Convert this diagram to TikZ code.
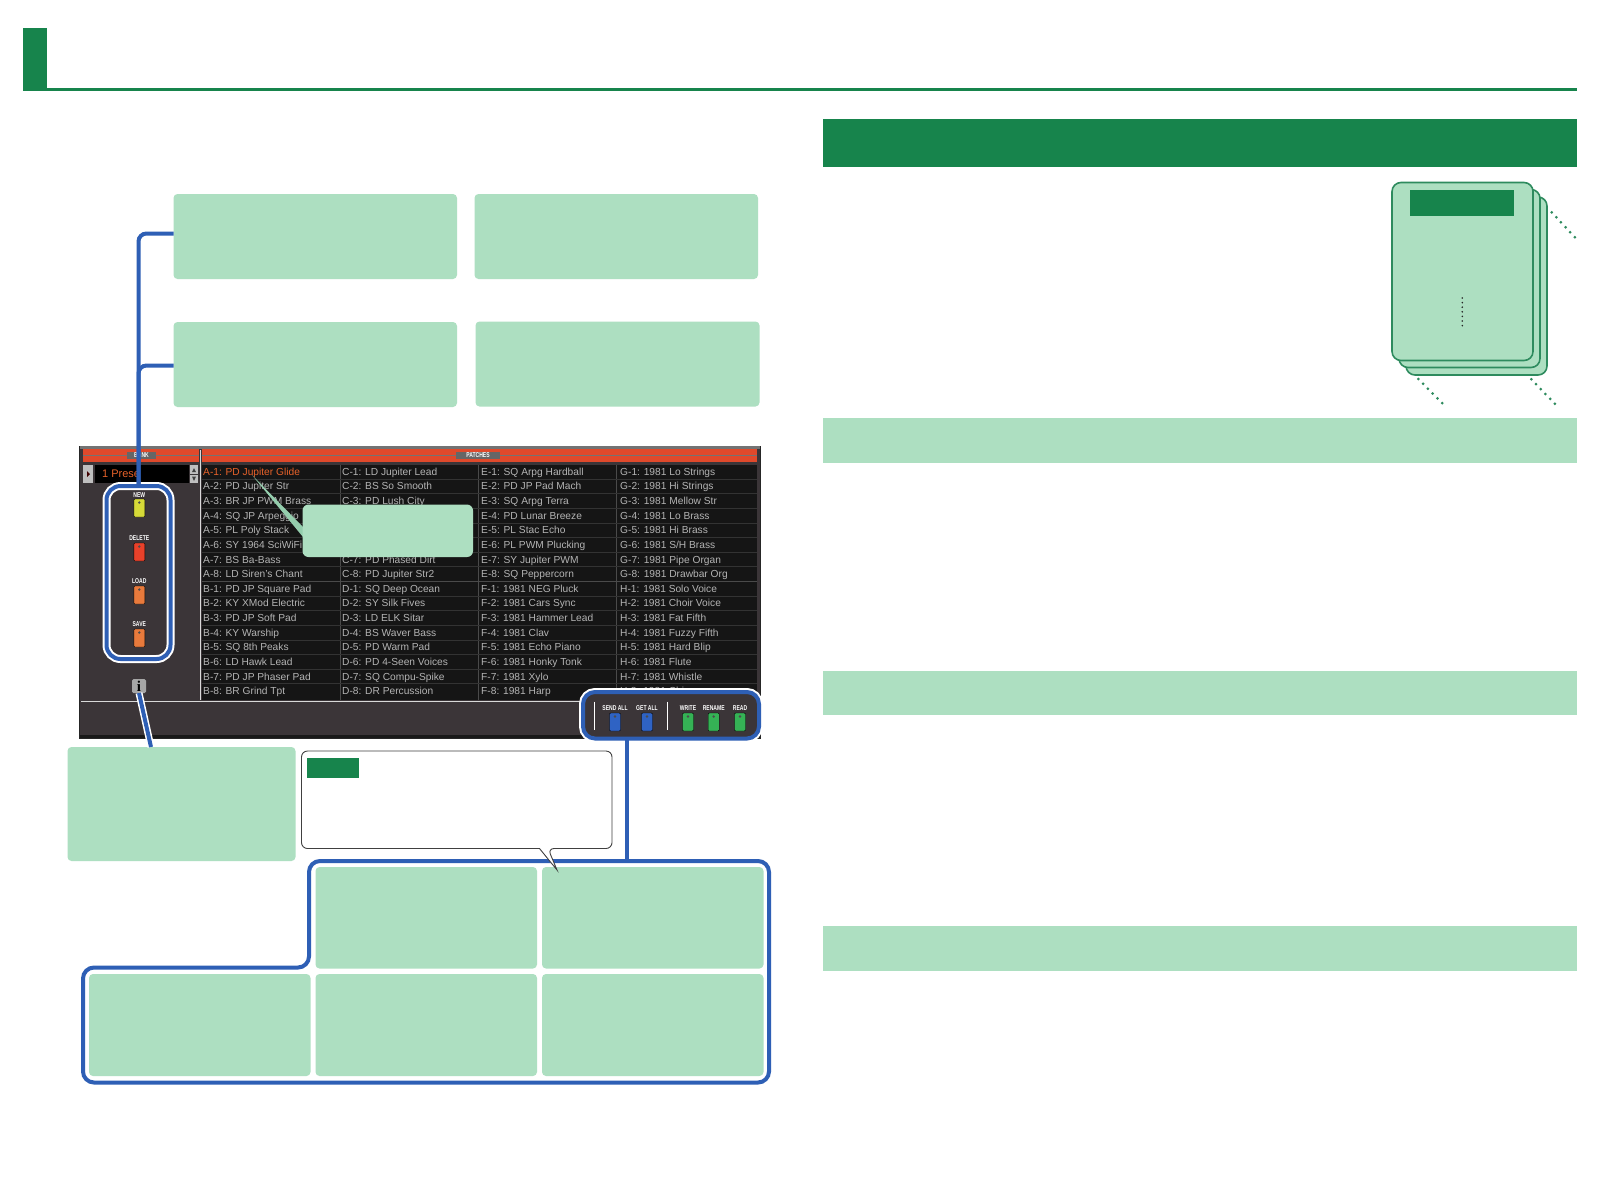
\documentclass[tikz,border=0pt]{standalone}
\usepackage{fontspec}
\setmainfont{Liberation Sans}
\newfontfamily\btnfont{Liberation Sans}[FakeStretch=0.72]
\newfontfamily\signfont{Liberation Serif}
\definecolor{darkgreen}{HTML}{17844C}
\definecolor{lightgreen}{HTML}{ADDFC1}
\definecolor{edgegreen}{HTML}{2E8B5E}
\definecolor{wireblue}{HTML}{2E5FB5}
\definecolor{panelgray}{HTML}{3B3538}
\definecolor{cellblack}{HTML}{151515}
\definecolor{rowgray}{HTML}{B4B4B4}
\definecolor{rowline}{HTML}{333333}
\definecolor{colline}{HTML}{4A4A4A}
\definecolor{barred}{HTML}{E0492B}
\definecolor{patchorange}{HTML}{E8622A}
\definecolor{pedalyellow}{HTML}{D6DA38}
\definecolor{pedalred}{HTML}{E8412A}
\definecolor{pedalorange}{HTML}{E87A3C}
\definecolor{pedalblue}{HTML}{2F63C4}
\definecolor{pedalgreen}{HTML}{35B255}
\tikzset{
  block/.style={anchor=north west,inner sep=0,outer sep=0},
  lightbox/.style={block,fill=lightgreen,rounded corners=4pt},
  paper/.style={block,fill=lightgreen,draw=edgegreen,line width=1.6pt,rounded corners=9pt,minimum width=141pt,minimum height=178pt},
  wire/.style={draw=wireblue,line width=4pt},
  haloframe/.style={block,wire,preaction={draw=white,line width=8pt},rounded corners=14pt},
  halowire/.style={wire,preaction={draw=white,line width=7pt}},
  dotsgreen/.style={draw=edgegreen,line width=3pt,line cap=round,dash pattern=on 0pt off 6.8pt},
  patch/.style={anchor=west,inner sep=0,text height=8.5pt,text depth=1.2pt,text=rowgray,font=\fontsize{10.2}{12}\selectfont},
  btnlabel/.style={inner sep=0,text=white,font=\btnfont\bfseries\fontsize{7}{8}\selectfont},
  pedal/.style={inner sep=0,outer sep=0,draw=black,rounded corners=1pt,minimum width=11pt,minimum height=18pt},
  pin/.style={fill=black!70}
}
\begin{document}
\begin{tikzpicture}[x=1pt,y=-1pt]
\useasboundingbox (0,0) rectangle (1600,1200);
\fill[white] (0,0) rectangle (1600,1200);
% page head and right column
\node[block,fill=darkgreen,minimum width=24.5pt,minimum height=63pt] (headmark) at (22.5,27.5) {};
\node[block,fill=darkgreen,minimum width=1554.5pt,minimum height=3pt] (headrule) at (22.5,88) {};
\node[block,fill=darkgreen,minimum width=754.5pt,minimum height=48pt] (bandtop) at (822.5,119) {};
\node[block,fill=lightgreen,minimum width=754.5pt,minimum height=45pt] (banda) at (822.5,418) {};
\node[block,fill=lightgreen,minimum width=754.5pt,minimum height=44pt] (bandb) at (822.5,671) {};
\node[block,fill=lightgreen,minimum width=754.5pt,minimum height=45pt] (bandc) at (822.5,925.5) {};
% stack of sheets
\node[paper] (paperc) at (1406,197) {};
\node[paper] (paperb) at (1399,189.5) {};
\node[paper] (papera) at (1392,182.5) {};
\node[block,fill=darkgreen,minimum width=104pt,minimum height=26pt] (papertitle) at (1410,190) {};
\draw[black!85,line width=1.8pt,line cap=round,dash pattern=on 0pt off 4.6pt] (1462.3,298) -- (1462.3,329);
\draw[dotsgreen] (1551.7,212.3) -- (1576,238.5);
\draw[dotsgreen] (1418.3,379) -- (1444.5,405.5);
\draw[dotsgreen] (1531.3,379.3) -- (1557,406);
% screen
\node[block,fill=panelgray,draw=black!85,line width=1pt,minimum width=681pt,minimum height=292pt] (screen) at (79.5,446) {};
\fill[black!90] (80,735) rectangle (760,738);
\fill[black!55] (80,446) rectangle (760,449);
\node[block,fill=barred,minimum width=116pt,minimum height=13pt] (bankbar) at (83,449) {};
\node[block,fill=barred,minimum width=555pt,minimum height=13pt] (patchbar) at (202,449) {};
\draw[black!55,line width=.7pt] (83,455.5) -- (199,455.5);
\draw[black!55,line width=.7pt] (202,455.5) -- (757,455.5);
\node[fill=black!60,inner sep=0,minimum width=29pt,minimum height=7.5pt,text=white,font=\btnfont\bfseries\fontsize{7}{8}\selectfont] (banktag) at (141.5,455.5) {BANK};
\node[fill=black!60,inner sep=0,minimum width=44pt,minimum height=7.5pt,text=white,font=\btnfont\bfseries\fontsize{7}{8}\selectfont] (patchtag) at (478,455.5) {PATCHES};
\node[block,fill=black,minimum width=94pt,minimum height=18pt] (bankfield) at (95,465) {};
\node[block,fill=black!25,minimum width=10pt,minimum height=18pt] (bankleft) at (83,465) {};
\fill[black!75!red] (87,471) -- (90,474) -- (87,477) -- cycle;
\node[block,fill=black!25,minimum width=8pt,minimum height=8.5pt] (bankup) at (190,465) {};
\node[block,fill=black!25,minimum width=8pt,minimum height=8.5pt] (bankdown) at (190,474.5) {};
\fill[black!75] (192,472) -- (196,472) -- (194,468) -- cycle;
\fill[black!75] (192,476.5) -- (196,476.5) -- (194,481) -- cycle;
\node[patch,text=patchorange,font=\fontsize{11}{13}\selectfont] (bankname) at (102,474) {1 Prese};
\node[block,fill=cellblack,minimum width=555pt,minimum height=235pt] (cells) at (202,465) {};
\draw[white!85!black,line width=1pt] (200.7,450) -- (200.7,700);
\draw[white!85!black,line width=1pt] (81,701) -- (757,701);
\draw[colline,line width=.8pt] (340,465) -- (340,700);
\draw[colline,line width=.8pt] (478,465) -- (478,700);
\draw[colline,line width=.8pt] (616,465) -- (616,700);
\draw[rowline,line width=.8pt] (202,479) -- (757,479);
\draw[rowline,line width=.8pt] (202,493.6) -- (757,493.6);
\draw[rowline,line width=.8pt] (202,508.2) -- (757,508.2);
\draw[rowline,line width=.8pt] (202,522.9) -- (757,522.9);
\draw[rowline,line width=.8pt] (202,537.5) -- (757,537.5);
\draw[rowline,line width=.8pt] (202,552.1) -- (757,552.1);
\draw[rowline,line width=.8pt] (202,566.8) -- (757,566.8);
\draw[colline,line width=.8pt] (202,581.4) -- (757,581.4);
\draw[rowline,line width=.8pt] (202,596) -- (757,596);
\draw[rowline,line width=.8pt] (202,610.6) -- (757,610.6);
\draw[rowline,line width=.8pt] (202,625.3) -- (757,625.3);
\draw[rowline,line width=.8pt] (202,639.9) -- (757,639.9);
\draw[rowline,line width=.8pt] (202,654.5) -- (757,654.5);
\draw[rowline,line width=.8pt] (202,669.1) -- (757,669.1);
\draw[rowline,line width=.8pt] (202,683.8) -- (757,683.8);
% patch list
\node[patch,text=patchorange] (a1) at (203,471.7) {A-1: PD Jupiter Glide};
\node[patch] (a2) at (203,486.3) {A-2: PD Jupiter Str};
\node[patch] (a3) at (203,500.9) {A-3: BR JP PWM Brass};
\node[patch] (a4) at (203,515.6) {A-4: SQ JP Arpeggio};
\node[patch] (a5) at (203,530.2) {A-5: PL Poly Stack};
\node[patch] (a6) at (203,544.8) {A-6: SY 1964 SciWiFi};
\node[patch] (a7) at (203,559.4) {A-7: BS Ba-Bass};
\node[patch] (a8) at (203,574.1) {A-8: LD Siren's Chant};
\node[patch] (b1) at (203,588.7) {B-1: PD JP Square Pad};
\node[patch] (b2) at (203,603.3) {B-2: KY XMod Electric};
\node[patch] (b3) at (203,617.9) {B-3: PD JP Soft Pad};
\node[patch] (b4) at (203,632.5) {B-4: KY Warship};
\node[patch] (b5) at (203,647.2) {B-5: SQ 8th Peaks};
\node[patch] (b6) at (203,661.8) {B-6: LD Hawk Lead};
\node[patch] (b7) at (203,676.4) {B-7: PD JP Phaser Pad};
\node[patch] (b8) at (203,691) {B-8: BR Grind Tpt};
\node[patch] (c1) at (342,471.7) {C-1: LD Jupiter Lead};
\node[patch] (c2) at (342,486.3) {C-2: BS So Smooth};
\node[patch] (c3) at (342,500.9) {C-3: PD Lush City};
\node[patch] (c7) at (342,559.4) {C-7: PD Phased Dirt};
\node[patch] (c8) at (342,574.1) {C-8: PD Jupiter Str2};
\node[patch] (d1) at (342,588.7) {D-1: SQ Deep Ocean};
\node[patch] (d2) at (342,603.3) {D-2: SY Silk Fives};
\node[patch] (d3) at (342,617.9) {D-3: LD ELK Sitar};
\node[patch] (d4) at (342,632.5) {D-4: BS Waver Bass};
\node[patch] (d5) at (342,647.2) {D-5: PD Warm Pad};
\node[patch] (d6) at (342,661.8) {D-6: PD 4-Seen Voices};
\node[patch] (d7) at (342,676.4) {D-7: SQ Compu-Spike};
\node[patch] (d8) at (342,691) {D-8: DR Percussion};
\node[patch] (e1) at (481,471.7) {E-1: SQ Arpg Hardball};
\node[patch] (e2) at (481,486.3) {E-2: PD JP Pad Mach};
\node[patch] (e3) at (481,500.9) {E-3: SQ Arpg Terra};
\node[patch] (e4) at (481,515.6) {E-4: PD Lunar Breeze};
\node[patch] (e5) at (481,530.2) {E-5: PL Stac Echo};
\node[patch] (e6) at (481,544.8) {E-6: PL PWM Plucking};
\node[patch] (e7) at (481,559.4) {E-7: SY Jupiter PWM};
\node[patch] (e8) at (481,574.1) {E-8: SQ Peppercorn};
\node[patch] (f1) at (481,588.7) {F-1: 1981 NEG Pluck};
\node[patch] (f2) at (481,603.3) {F-2: 1981 Cars Sync};
\node[patch] (f3) at (481,617.9) {F-3: 1981 Hammer Lead};
\node[patch] (f4) at (481,632.5) {F-4: 1981 Clav};
\node[patch] (f5) at (481,647.2) {F-5: 1981 Echo Piano};
\node[patch] (f6) at (481,661.8) {F-6: 1981 Honky Tonk};
\node[patch] (f7) at (481,676.4) {F-7: 1981 Xylo};
\node[patch] (f8) at (481,691) {F-8: 1981 Harp};
\node[patch] (g1) at (620,471.7) {G-1: 1981 Lo Strings};
\node[patch] (g2) at (620,486.3) {G-2: 1981 Hi Strings};
\node[patch] (g3) at (620,500.9) {G-3: 1981 Mellow Str};
\node[patch] (g4) at (620,515.6) {G-4: 1981 Lo Brass};
\node[patch] (g5) at (620,530.2) {G-5: 1981 Hi Brass};
\node[patch] (g6) at (620,544.8) {G-6: 1981 S/H Brass};
\node[patch] (g7) at (620,559.4) {G-7: 1981 Pipe Organ};
\node[patch] (g8) at (620,574.1) {G-8: 1981 Drawbar Org};
\node[patch] (h1) at (620,588.7) {H-1: 1981 Solo Voice};
\node[patch] (h2) at (620,603.3) {H-2: 1981 Choir Voice};
\node[patch] (h3) at (620,617.9) {H-3: 1981 Fat Fifth};
\node[patch] (h4) at (620,632.5) {H-4: 1981 Fuzzy Fifth};
\node[patch] (h5) at (620,647.2) {H-5: 1981 Hard Blip};
\node[patch] (h6) at (620,661.8) {H-6: 1981 Flute};
\node[patch] (h7) at (620,676.4) {H-7: 1981 Whistle};
\node[patch] (h8) at (620,691) {H-8: 1981 Chime};
% frames round the buttons
\node[haloframe,minimum width=64pt,minimum height=173pt] (framebtns) at (106.5,486) {};
\node[haloframe,fill=panelgray,rounded corners=12pt,minimum width=176pt,minimum height=46.5pt] (framebar) at (583,692) {};
% left buttons
\node[btnlabel] (newlabel) at (139.3,495.5) {NEW};
\node[pedal,fill=pedalyellow] (new) at (139.3,508) {};
\node[btnlabel] (deletelabel) at (139.3,538.5) {DELETE};
\node[pedal,fill=pedalred] (delete) at (139.3,552) {};
\node[btnlabel] (loadlabel) at (139.3,581.5) {LOAD};
\node[pedal,fill=pedalorange] (load) at (139.3,595) {};
\node[btnlabel] (savelabel) at (139.3,624.5) {SAVE};
\node[pedal,fill=pedalorange] (save) at (139.3,638) {};
\node[block,fill=black!35,rounded corners=1.5pt,minimum width=14pt,minimum height=14pt] (info) at (132,679) {};
\node[inner sep=0,text=black,font=\signfont\bfseries\fontsize{15}{15}\selectfont] (infosign) at (info.center) {i};
% bar buttons
\draw[white,line width=1pt] (594,701.7) -- (594,730);
\draw[white,line width=1pt] (667.3,701.7) -- (667.3,730);
\node[btnlabel] (sendlabel) at (615,707.7) {SEND ALL};
\node[pedal,fill=pedalblue] (send) at (615,722) {};
\node[btnlabel] (getlabel) at (647,707.7) {GET ALL};
\node[pedal,fill=pedalblue] (get) at (647,722) {};
\node[btnlabel] (writelabel) at (688,707.7) {WRITE};
\node[pedal,fill=pedalgreen] (write) at (688,722) {};
\node[btnlabel] (renamelabel) at (713.7,707.7) {RENAME};
\node[pedal,fill=pedalgreen] (rename) at (713.7,722) {};
\node[btnlabel] (readlabel) at (740,707.7) {READ};
\node[pedal,fill=pedalgreen] (read) at (740,722) {};
\fill[pin] ([yshift=-3.5pt]new.north) circle (1.3pt);
\fill[pin] ([yshift=-3.5pt]delete.north) circle (1.3pt);
\fill[pin] ([yshift=-3.5pt]load.north) circle (1.3pt);
\fill[pin] ([yshift=-3.5pt]save.north) circle (1.3pt);
\fill[pin] ([yshift=-3.5pt]send.north) circle (1.3pt);
\fill[pin] ([yshift=-3.5pt]get.north) circle (1.3pt);
\fill[pin] ([yshift=-3.5pt]write.north) circle (1.3pt);
\fill[pin] ([yshift=-3.5pt]rename.north) circle (1.3pt);
\fill[pin] ([yshift=-3.5pt]read.north) circle (1.3pt);
% light boxes above the screen
\node[lightbox,minimum width=283.5pt,minimum height=85pt] (boxa) at (173.5,194) {};
\node[lightbox,minimum width=283.5pt,minimum height=85pt] (boxb) at (474.5,194) {};
\node[lightbox,minimum width=283.5pt,minimum height=85pt] (boxc) at (173.5,322) {};
\node[lightbox,minimum width=284pt,minimum height=85pt] (boxd) at (475.5,321.5) {};
% note on the list
\fill[lightgreen!80!edgegreen] (252,475) -- (303,527) -- (303,537) -- cycle;
\node[lightbox,rounded corners=6pt,minimum width=170.5pt,minimum height=52.5pt] (boxnote) at (302.5,504.5) {};
% boxes below the screen
\node[lightbox,minimum width=228pt,minimum height=114pt] (boxinfo) at (67.5,747) {};
\node[lightbox,minimum width=221.5pt,minimum height=101.5pt] (boxe) at (315.5,867) {};
\node[lightbox,minimum width=221.5pt,minimum height=101.5pt] (boxf) at (542,867) {};
\node[lightbox,minimum width=221.5pt,minimum height=102pt] (boxg) at (89,974) {};
\node[lightbox,minimum width=221.5pt,minimum height=102pt] (boxh) at (315.5,974) {};
\node[lightbox,minimum width=221.5pt,minimum height=102pt] (boxi) at (542,974) {};
% connectors
\draw[wire,rounded corners=8pt] (framebtns.north) |- ([yshift=3pt]boxa.west);
\draw[wire,rounded corners=8pt] (framebtns.north) |- ([yshift=-1pt]boxc.west);
\draw[halowire] (info.south) -- (boxinfo.north -| 151,0);
\coordinate (wirein) at (627,861);
\draw[wire] (framebar.south -| wirein) -- (wirein);
\draw[wire,rounded corners=11pt] (309,967.5) -- (309,861) -- (769,861) -- (769,1082.5) -- (83,1082.5) -- (83,967.5) -- cycle;
% callout
\draw[fill=white,draw=black!75,line width=.9pt,rounded corners=6pt] (301.5,751) -- (612,751) -- (612,848.5) -- (548,848.5) [sharp corners] -- (557,870) -- (539.5,848.5) [rounded corners=6pt] -- (301.5,848.5) -- cycle;
\node[block,fill=darkgreen,minimum width=52pt,minimum height=19.5pt] (calloutchip) at (307,758) {};
\end{tikzpicture}
\end{document}
